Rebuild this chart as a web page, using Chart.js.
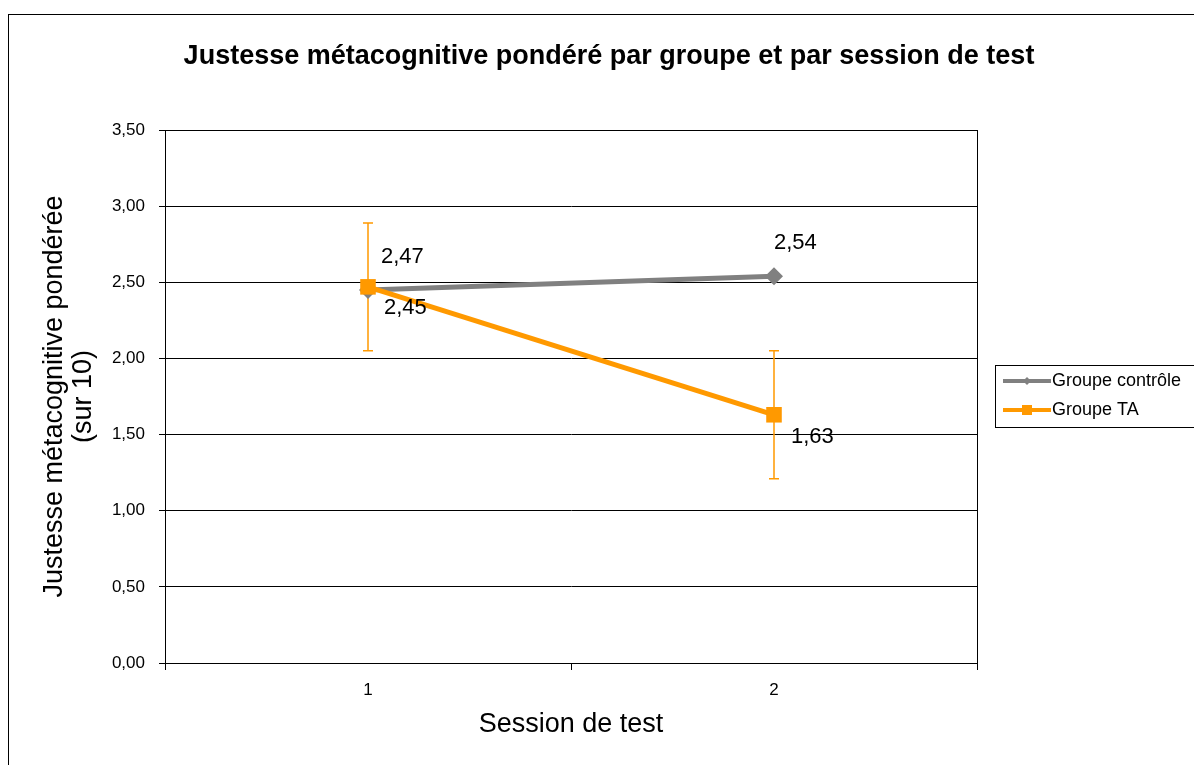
<!DOCTYPE html>
<html>
<head>
<meta charset="utf-8">
<script src="https://cdn.jsdelivr.net/npm/chart.js@4"></script>
<style>
  html, body { margin: 0; padding: 0; background: #fff; }
  #wrap { width: 1194px; height: 765px; position: relative; }
</style>
</head>
<body>
<div id="wrap"><canvas id="chart"></canvas></div>
<script>
// Data
const sessions = ['1', '2'];
const groupeControle = [2.45, 2.54];
const groupeTA = [2.47, 1.63];
const erreurTA = [0.42, 0.42];
const yMin = 0, yMax = 3.5, yStep = 0.5;
const titre = 'Justesse métacognitive pondéré par groupe et par session de test';

const FONT = "'Liberation Sans', Arial, sans-serif";
const GRIS = '#808080';
const ORANGE = '#FF9900';

function virgule(v) {
    return v.toFixed(2).replace('.', ',');
}

// outer frame, title, right border of the plot area
const cadrePlugin = {
    id: 'cadre',
    beforeDraw(chart) {
        const ctx = chart.ctx;
        ctx.save();
        ctx.fillStyle = '#fff';
        ctx.fillRect(0, 0, chart.width, chart.height);
        ctx.strokeStyle = '#000';
        ctx.lineWidth = 1;
        ctx.strokeRect(8.5, 14.5, chart.width + 10, chart.height + 10);
        // chart title, centred on the whole frame
        ctx.fillStyle = '#000';
        ctx.font = 'bold 27px ' + FONT;
        ctx.textAlign = 'center';
        ctx.textBaseline = 'middle';
        ctx.fillText(titre, 609, 57);
        ctx.restore();
    },
    afterDraw(chart) {
        const a = chart.chartArea;
        const ctx = chart.ctx;
        ctx.save();
        ctx.strokeStyle = '#000';
        ctx.lineWidth = 1;
        ctx.strokeRect(Math.round(a.left) + 0.5, Math.round(a.top) + 0.5,
            Math.round(a.right - a.left), Math.round(a.bottom - a.top));
        ctx.restore();
    }
};

// error bars for Groupe TA
const erreurPlugin = {
    id: 'erreurs',
    beforeDatasetsDraw(chart) {
        const ctx = chart.ctx;
        const x = chart.scales.x, y = chart.scales.y;
        ctx.save();
        ctx.strokeStyle = ORANGE;
        ctx.lineWidth = 1.5;
        groupeTA.forEach((v, i) => {
            const px = Math.round(x.getPixelForValue(i));
            const top = y.getPixelForValue(v + erreurTA[i]);
            const bot = y.getPixelForValue(v - erreurTA[i]);
            ctx.beginPath();
            ctx.moveTo(px, top); ctx.lineTo(px, bot);
            ctx.moveTo(px - 5, top); ctx.lineTo(px + 5, top);
            ctx.moveTo(px - 5, bot); ctx.lineTo(px + 5, bot);
            ctx.stroke();
        });
        ctx.restore();
    }
};

// value labels next to the points
const etiquettesPlugin = {
    id: 'etiquettes',
    afterDatasetsDraw(chart) {
        const ctx = chart.ctx;
        const x = chart.scales.x, y = chart.scales.y;
        ctx.save();
        ctx.fillStyle = '#000';
        ctx.font = '22px ' + FONT;
        ctx.textBaseline = 'middle';
        // Groupe contrôle: first below-right, second above
        const offC = [[16, 18], [0, -33]];
        groupeControle.forEach((v, i) => {
            ctx.fillText(virgule(v), x.getPixelForValue(i) + offC[i][0], y.getPixelForValue(v) + offC[i][1]);
        });
        // Groupe TA: first above-right, second below-right
        const offT = [[13, -30], [17, 22]];
        groupeTA.forEach((v, i) => {
            ctx.fillText(virgule(v), x.getPixelForValue(i) + offT[i][0], y.getPixelForValue(v) + offT[i][1]);
        });
        ctx.restore();
    }
};

// boxed legend on the right
const legendePlugin = {
    id: 'legende',
    afterDraw(chart) {
        const ctx = chart.ctx;
        const bx = 995, by = 365, bw = 205, bh = 62;
        ctx.save();
        ctx.strokeStyle = '#000';
        ctx.lineWidth = 1;
        ctx.strokeRect(bx + 0.5, by + 0.5, bw, bh);
        ctx.font = '18px ' + FONT;
        ctx.textBaseline = 'middle';
        chart.data.datasets.forEach((ds, i) => {
            const ly = by + 16 + i * 29;
            ctx.strokeStyle = ds.borderColor;
            ctx.lineWidth = 4;
            ctx.beginPath();
            ctx.moveTo(bx + 8, ly); ctx.lineTo(bx + 56, ly);
            ctx.stroke();
            ctx.fillStyle = ds.borderColor;
            if (ds.pointStyle === 'rectRot') {
                ctx.beginPath();
                ctx.moveTo(bx + 32, ly - 4); ctx.lineTo(bx + 36, ly);
                ctx.lineTo(bx + 32, ly + 4); ctx.lineTo(bx + 28, ly);
                ctx.closePath(); ctx.fill();
            } else {
                ctx.fillRect(bx + 27, ly - 5, 10, 10);
            }
            ctx.fillStyle = '#000';
            ctx.fillText(ds.label, bx + 57, ly);
        });
        ctx.restore();
    }
};

const ctx = document.getElementById('chart').getContext('2d');
new Chart(ctx, {
    type: 'line',
    data: {
        labels: sessions,
        datasets: [{
            label: 'Groupe contrôle',
            data: groupeControle,
            borderColor: GRIS,
            backgroundColor: GRIS,
            borderWidth: 5,
            pointStyle: 'rectRot',
            pointRadius: 9,
            pointBorderWidth: 0,
            order: 2
        }, {
            label: 'Groupe TA',
            data: groupeTA,
            borderColor: ORANGE,
            backgroundColor: ORANGE,
            borderWidth: 5,
            pointStyle: 'rect',
            pointRadius: 11,
            pointBorderWidth: 0,
            order: 1
        }]
    },
    options: {
        responsive: true,
        maintainAspectRatio: false,
        animation: false,
        layout: {
            padding: { left: 40, right: 217, top: 130, bottom: 24 }
        },
        plugins: {
            legend: { display: false },
            tooltip: { enabled: false },
            title: { display: false }
        },
        scales: {
            x: {
                offset: true,
                grid: {
                    offset: true,
                    drawOnChartArea: false,
                    color: '#000',
                    tickLength: 7
                },
                border: { color: '#000', width: 1 },
                ticks: {
                    color: '#000',
                    padding: 10,
                    font: { family: FONT, size: 17 }
                },
                title: {
                    display: true,
                    text: 'Session de test',
                    color: '#000',
                    font: { family: FONT, size: 27 },
                    padding: { top: 10, bottom: 0 }
                },
                afterFit(scale) { scale.height = 78; }
            },
            y: {
                min: yMin,
                max: yMax,
                grid: {
                    color: '#000',
                    lineWidth: 1,
                    tickLength: 6
                },
                border: { color: '#000', width: 1 },
                ticks: {
                    stepSize: yStep,
                    color: '#000',
                    padding: 14,
                    font: { family: FONT, size: 17 },
                    callback: function(value) {
                        return virgule(value);
                    }
                },
                title: {
                    display: true,
                    text: ['Justesse métacognitive pondérée', '(sur 10)'],
                    color: '#000',
                    font: { family: FONT, size: 27, lineHeight: 1.08 },
                    padding: 0
                },
                afterFit(scale) { scale.width = 125; }
            }
        }
    },
    plugins: [cadrePlugin, erreurPlugin, etiquettesPlugin, legendePlugin]
});
</script>
</body>
</html>
